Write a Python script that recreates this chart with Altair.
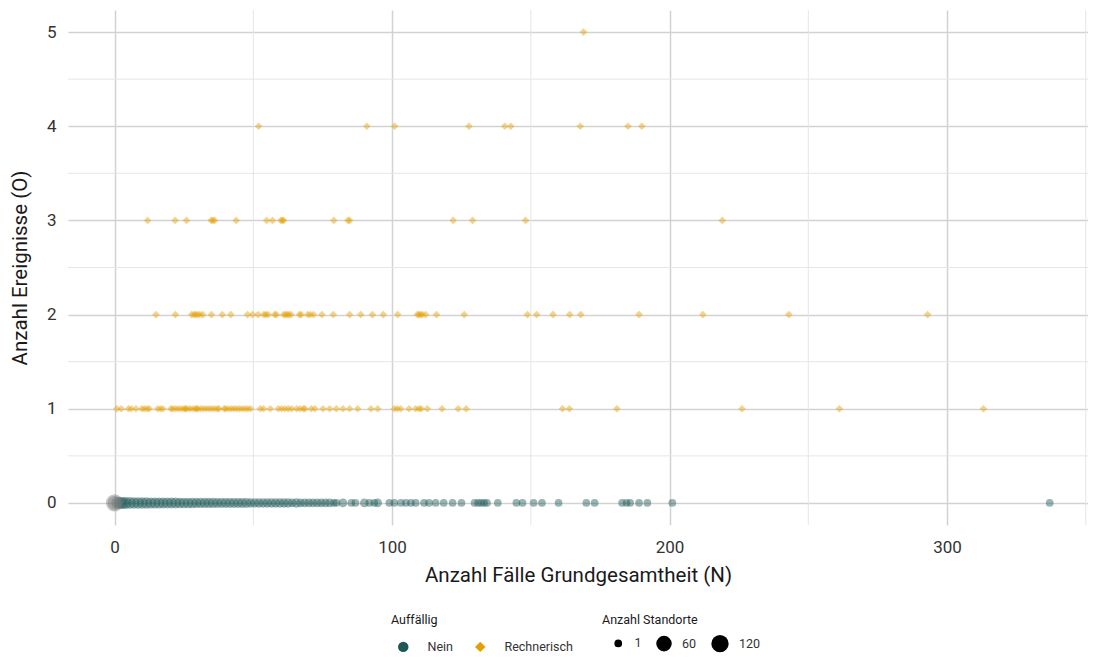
import altair as alt
import pandas as pd

# ---- data ----
# Auffällig = "Nein" : all at O = 0
nein_n = [1, 2, 3, 4, 5.5, 7, 8.5, 10, 11.5, 13,
          14.5, 16, 17.5, 19, 20.5, 22, 23.5, 25, 26.5, 28,
          29.5, 31, 32.5, 34, 35.5, 37, 38.5, 40, 41.5, 43,
          44.5, 46, 47.5, 49, 50.5, 52, 53.5, 55, 56.5, 58,
          59.5, 61, 62.5, 64, 65.5, 67, 68.5, 70, 71.5, 73,
          74.5, 76, 77.5, 79, 80,
          82.3, 85.3, 86.8, 90, 91.8, 93.6, 94.8, 99, 100.8, 103.2,
          105, 106.8, 108.5, 111.5, 113.3, 115.7, 118.6, 121.8, 125, 129.7,
          131, 132.1, 133.2, 134.2, 138.1, 144.8, 147, 151, 154, 160,
          170, 173, 182.9, 184.5, 185.8, 189, 192, 201, 337]
nein_standorte = [14, 13, 12, 12, 11, 10, 10, 9, 9, 8,
                  8, 8, 7, 7, 7, 7, 6, 6, 6, 6,
                  5, 5, 5, 5, 5, 4, 4, 4, 4, 4,
                  4, 4, 4, 3, 3, 3, 3, 3, 3, 3,
                  3, 3, 3, 2, 3, 2, 2, 2, 2, 2,
                  2, 2, 2, 1, 1,
                  2, 1, 1, 2, 1, 1, 2, 1, 1, 1,
                  1, 1, 1, 1, 1, 1, 1, 1, 1, 1,
                  1, 1, 1, 1, 1, 1, 1, 1, 1, 1,
                  1, 1, 1, 1, 1, 1, 1, 1, 1]

# Auffällig = "Rechnerisch" : one list per number of events
rech_o1 = [0.8, 2.4, 5, 6, 7.7, 9.8, 10.7, 11.7, 12.5, 15.5, 16.5, 17.4, 20.3, 21, 22, 23,
           24, 25, 25.5, 26, 27, 28, 29, 29.5, 30, 31, 32, 33, 34, 35, 36, 37, 37.6, 39.5,
           40, 41, 42, 43, 44, 45, 46, 47, 48, 49, 52.5, 53.7, 56.1, 59, 60.2, 61.4, 62.6,
           63.8, 65.6, 66.8, 68, 68.6, 70.9, 72.2, 75.1, 77.5, 79.9, 82.3, 84.7, 87.6, 92.4,
           94.8, 100.8, 101.9, 103.1, 106.1, 108.5, 109.7, 110.5, 112.7, 118, 123.8, 126.7,
           161.4, 163.9, 181, 226.1, 261.2, 313.1]
rech_o2 = [14.9, 21.9, 27.8, 28.6, 29.2, 29.9, 30.7, 31.8, 34.9, 38.8, 41.9, 47.9, 49.7,
           51.7, 53.8, 54.5, 55.3, 57.7, 58.3, 60.9, 61.6, 62.2, 62.8, 63.6, 66.6, 67.2,
           69.6, 70.5, 71.7, 74.7, 78.8, 84.7, 88.7, 92.9, 96.8, 102, 109.1, 109.7, 110.3,
           110.9, 112.1, 116, 126, 148.8, 152.1, 158, 164, 168, 189, 212, 243, 293]
rech_o3 = [11.9, 21.8, 25.9, 34.8, 35.4, 36.0, 43.8, 54.8, 56.9, 59.9, 60.5, 60.9, 79.0,
           84.1, 84.7, 122, 129, 148.1, 219]
rech_o4 = [51.9, 90.9, 100.9, 127.7, 140.6, 142.8, 167.8, 185, 190]
rech_o5 = [169]

# point without category (grey) at N = 0
na_n = [0, 0]
na_standorte = [120, 30]

x_minor = [50, 150, 250, 350]
y_minor = [0.5, 1.5, 2.5, 3.5, 4.5]

categories = ["Nein", "Rechnerisch", "NA"]
cat_colors = ["#1d5857", "#E69F00", "#7f7f7f"]
cat_shapes = ["circle", "diamond", "circle"]

# ---- tables ----
rows = []
for n, s in zip(nein_n, nein_standorte):
    rows.append({"N": n, "O": 0, "Auffällig": "Nein", "Standorte": s})
for o, lst in [(1, rech_o1), (2, rech_o2), (3, rech_o3), (4, rech_o4), (5, rech_o5)]:
    for n in lst:
        rows.append({"N": n, "O": o, "Auffällig": "Rechnerisch", "Standorte": 1})
for n, s in zip(na_n, na_standorte):
    rows.append({"N": n, "O": 0, "Auffällig": "NA", "Standorte": s})
df = pd.DataFrame(rows)
df_xm = pd.DataFrame({"x": x_minor})
df_ym = pd.DataFrame({"y": y_minor})

FONT = "Roboto"
xscale = alt.Scale(domain=[-16.8, 350.8], nice=False, zero=False)
yscale = alt.Scale(domain=[-0.234, 5.234], nice=False, zero=False)
size_scale = alt.Scale(type="pow", exponent=0.3, domain=[1, 120], range=[59, 300])

minor_x = alt.Chart(df_xm).mark_rule(color="#e6e6e6", strokeWidth=1).encode(
    x=alt.X("x:Q", scale=xscale))
minor_y = alt.Chart(df_ym).mark_rule(color="#e6e6e6", strokeWidth=1).encode(
    y=alt.Y("y:Q", scale=yscale))

legend_cat = alt.Legend(
    title="Auffällig", orient="none", legendX=323, legendY=604, direction="horizontal",
    values=["Nein", "Rechnerisch"], symbolOffset=6,
    symbolOpacity=1, symbolSize=110, symbolStrokeWidth=0, labelOffset=18, columnPadding=15,
    titlePadding=14)

size_legend = alt.Legend(
    title="Anzahl Standorte", orient="none", legendX=534, legendY=604,
    direction="horizontal", values=[1, 60, 120], symbolOffset=10,
    symbolFillColor="black", symbolStrokeColor="black",
    symbolStrokeWidth=0, symbolOpacity=1, labelOffset=10,
    columnPadding=4, titlePadding=8)

points = alt.Chart(df).mark_point(filled=True, opacity=0.45, strokeWidth=0).encode(
    x=alt.X("N:Q", scale=xscale,
            axis=alt.Axis(title="Anzahl Fälle Grundgesamtheit (N)", values=[0, 100, 200, 300])),
    y=alt.Y("O:Q", scale=yscale,
            axis=alt.Axis(title="Anzahl Ereignisse (O)", values=[0, 1, 2, 3, 4, 5], format="d")),
    color=alt.Color("Auffällig:N", scale=alt.Scale(domain=categories, range=cat_colors),
                    legend=legend_cat),
    shape=alt.Shape("Auffällig:N", scale=alt.Scale(domain=categories, range=cat_shapes),
                    legend=legend_cat),
    size=alt.Size("Standorte:Q", scale=size_scale, legend=size_legend),
)

chart = alt.layer(minor_x, minor_y, points).properties(
    width=1020, height=515,
    autosize=alt.AutoSizeParams(type="none"),
    padding={"left": 60, "top": 2, "right": 0, "bottom": 129},
).configure_view(stroke=None).configure_axis(
    domain=False, ticks=False, grid=True, gridColor="#d2d2d2", gridWidth=1.5,
    labelFont=FONT, labelFontSize=17, labelColor="#333333",
    titleFont=FONT, titleFontSize=20.5, titleFontWeight="normal", titleColor="#1a1a1a",
).configure_axisX(labelPadding=14, titlePadding=10).configure_axisY(
    labelPadding=12, titlePadding=16
).configure_legend(
    labelFont=FONT, titleFont=FONT, labelFontSize=12.5, titleFontSize=12.5,
    titleFontWeight="normal", labelColor="#333333", titleColor="#1a1a1a",
)

chart.save("out.html", embed_options={"renderer": "svg", "actions": False})
